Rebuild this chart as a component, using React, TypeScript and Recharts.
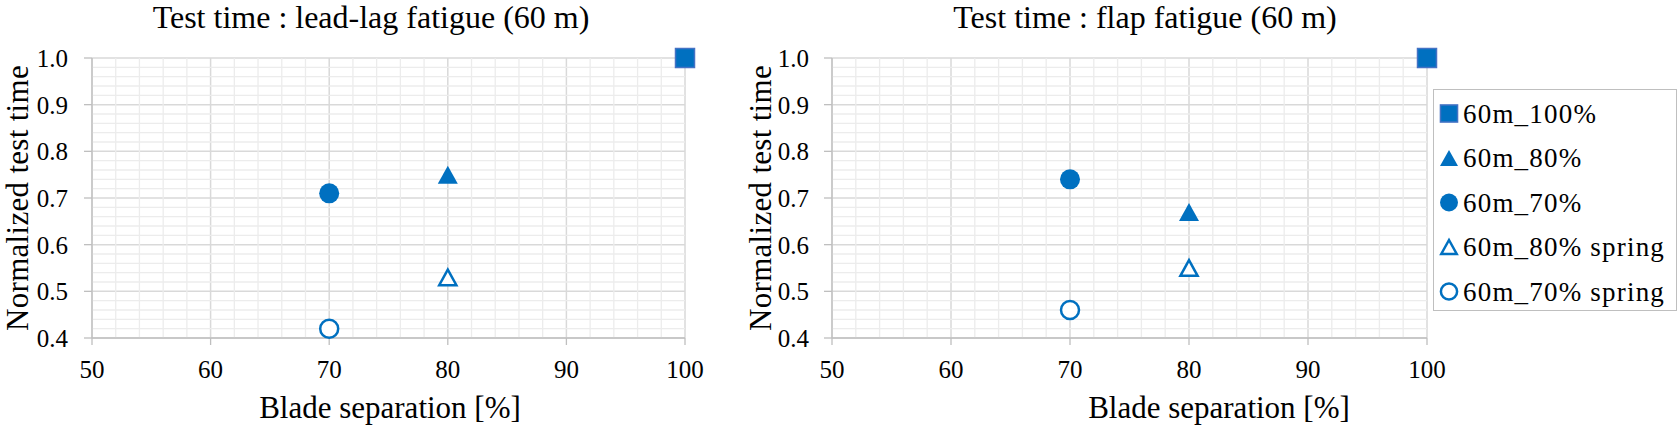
import { ScatterChart, Scatter, XAxis, YAxis, CartesianGrid, Legend, ReferenceLine } from 'recharts';

const SERIES = ['60m_100%', '60m_80%', '60m_70%', '60m_80% spring', '60m_70% spring'];
const SEPARATION = [100, 80, 70, 80, 70];
const LEADLAG_TIME = [1.0, 0.75, 0.71, 0.53, 0.42];
const FLAP_TIME = [1.0, 0.67, 0.74, 0.55, 0.46];
const KINDS = ['square', 'triangle', 'circle', 'triangleOpen', 'circleOpen'];

const X_TICKS = [50, 60, 70, 80, 90, 100];
const Y_TICKS = [0.4, 0.5, 0.6, 0.7, 0.8, 0.9, 1.0];
// minor gridlines every 2 % / 0.02
const X_MINOR = Array.from({ length: 26 }, (_, i) => 50 + i * 2).filter(v => v % 10 !== 0);
const Y_MINOR = Array.from({ length: 31 }, (_, i) => +(0.4 + i * 0.02).toFixed(2)).filter((_, i) => i % 5 !== 0);

const BLUE = '#0070c0';
const FONT = '"Liberation Serif", "Times New Roman", serif';

function Marker({ kind, cx, cy, k = 1 }: { kind: string; cx: number; cy: number; k?: number }) {
  if (kind === 'square')
    return <rect x={cx - 9.5 * k} y={cy - 9.5 * k} width={19 * k} height={19 * k} fill={BLUE} stroke="#4472c4" strokeWidth={1.5} />;
  if (kind === 'circle') return <circle cx={cx} cy={cy} r={10 * k} fill={BLUE} />;
  if (kind === 'circleOpen') return <circle cx={cx} cy={cy} r={9 * k} fill="#fff" stroke={BLUE} strokeWidth={2.5} />;
  const w = (kind === 'triangle' ? 10 : 8.6) * k;
  const h = (kind === 'triangle' ? 9 : 7.8) * k;
  const pts = `${cx},${cy - h} ${cx + w},${cy + h} ${cx - w},${cy + h}`;
  return kind === 'triangle'
    ? <polygon points={pts} fill={BLUE} />
    : <polygon points={pts} fill="#fff" stroke={BLUE} strokeWidth={2.5} strokeLinejoin="miter" />;
}

function LegendBox() {
  return (
    <div style={{ width: 242, height: 220, border: '1.3px solid #bfbfbf', background: '#fff', position: 'relative' }}>
      <svg width={242} height={220} style={{ position: 'absolute', left: 0, top: 0 }}>
        {SERIES.map((s, i) => {
          const cy = 23.5 + i * 44.5;
          return (
            <g key={s}>
              <Marker kind={KINDS[i]} cx={15} cy={cy} k={0.9} />
              <text x={29} y={cy} dy="0.35em" fontSize={27} letterSpacing={1.2} style={{ fontFamily: FONT }} fill="#000">{s}</text>
            </g>
          );
        })}
      </svg>
    </div>
  );
}

function Panel({ values, width, yAxisWidth, right, tickMargin, legend }: {
  values: number[]; width: number; yAxisWidth: number; right: number; tickMargin: number; legend?: boolean;
}) {
  const tick = { fontSize: 25, fill: '#000', style: { fontFamily: FONT } };
  return (
    <ScatterChart width={width} height={427} margin={{ top: 58, right, bottom: 49, left: 0 }} style={{ fontFamily: FONT }}>
      {X_MINOR.map(v => (
        <ReferenceLine key={'x' + v} x={v} stroke="#ececec" strokeWidth={1.3} />
      ))}
      {Y_MINOR.map(v => (
        <ReferenceLine key={'y' + v} y={v} stroke="#ececec" strokeWidth={1.3} />
      ))}
      <CartesianGrid stroke="#d9d9d9" strokeWidth={1.5} />
      <XAxis type="number" dataKey="x" domain={[50, 100]} ticks={X_TICKS} height={40}
        tick={tick} tickSize={7} tickMargin={15} stroke="#bfbfbf" strokeWidth={1.3} />
      <YAxis type="number" dataKey="y" domain={[0.4, 1.0]} ticks={Y_TICKS} width={yAxisWidth}
        tick={tick} tickSize={8} tickMargin={tickMargin} stroke="#bfbfbf" strokeWidth={1.3}
        tickFormatter={(v: number) => v.toFixed(1)} />
      {legend && (
        <Legend layout="vertical" align="center" verticalAlign="middle" content={() => <LegendBox />}
          wrapperStyle={{ left: 703, top: 89, width: 245, height: 223 }} />
      )}
      {SERIES.map((s, i) => (
        <Scatter key={s} name={s} data={[{ x: SEPARATION[i], y: values[i] }]} isAnimationActive={false}
          shape={(p: any) => <Marker kind={KINDS[i]} cx={p.cx} cy={p.cy} />} />
      ))}
    </ScatterChart>
  );
}

export default function App() {
  const t = { fill: '#000', style: { fontFamily: FONT } };
  return (
    <div style={{ position: 'absolute', left: 0, top: 0, width: 1678, height: 427, background: '#fff', fontFamily: FONT }}>
      <div style={{ position: 'absolute', left: 0, top: 0 }}>
        <Panel values={LEADLAG_TIME} width={730} yAxisWidth={92} right={45} tickMargin={16} />
      </div>
      <div style={{ position: 'absolute', left: 730, top: 0 }}>
        <Panel values={FLAP_TIME} width={948} yAxisWidth={102} right={251} tickMargin={15} legend />
      </div>
      <svg width={1678} height={427} style={{ position: 'absolute', left: 0, top: 0, pointerEvents: 'none' }}>
        <text x={371} y={28} textAnchor="middle" fontSize={32} {...t}>Test time : lead-lag fatigue (60 m)</text>
        <text x={1145} y={28} textAnchor="middle" fontSize={32} {...t}>Test time : flap fatigue (60 m)</text>
        <text x={390} y={418} textAnchor="middle" fontSize={31} {...t}>Blade separation [%]</text>
        <text x={1219} y={418} textAnchor="middle" fontSize={31} {...t}>Blade separation [%]</text>
        <text transform="translate(28,198) rotate(-90)" textAnchor="middle" fontSize={31} letterSpacing={0.3} {...t}>Normalized test time</text>
        <text transform="translate(771,198) rotate(-90)" textAnchor="middle" fontSize={31} letterSpacing={0.3} {...t}>Normalized test time</text>
      </svg>
    </div>
  );
}
